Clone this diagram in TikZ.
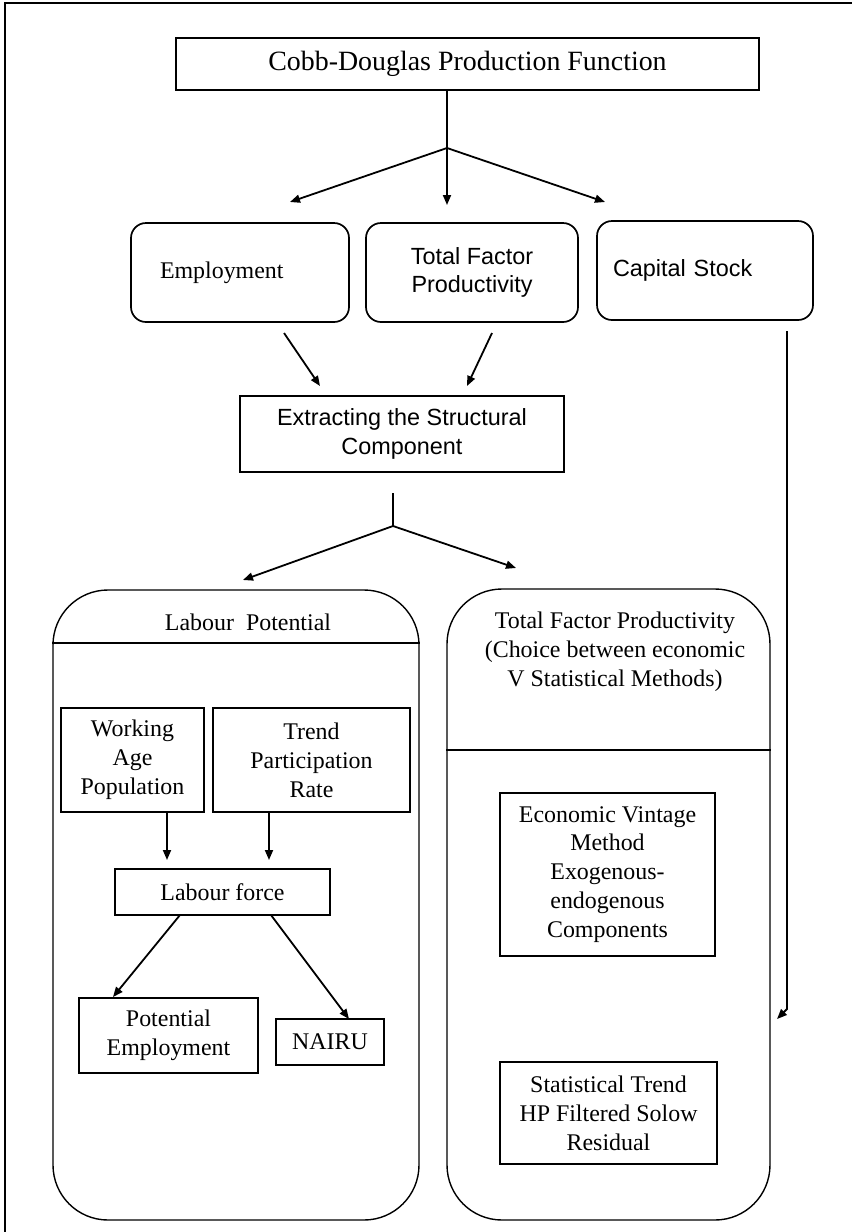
\documentclass[tikz,border=0pt]{standalone}
\usepackage{fontspec}
\setmainfont{Liberation Serif}
\newfontfamily\arialfam{Liberation Sans}
\usetikzlibrary{arrows.meta}
\newcommand\myser{\fontsize{24}{29}\selectfont}
\newcommand\mysans{\arialfam\fontsize{23.5}{28.5}\selectfont}
\newcommand\mybig{\fontsize{28}{32}\selectfont}
\begin{document}
\begin{tikzpicture}[x=1bp,y=-1bp,
  box/.style={draw, line width=1.7bp, inner sep=0pt, align=center, font=\myser},
  rbox/.style={box, rounded corners=15bp},
  bigbox/.style={draw, line width=1.4bp, inner sep=0pt, rounded corners=55bp},
  conn/.style={line width=1.8bp},
  arr/.style={conn, -{Triangle[length=10bp,width=8bp]}},
  lbl/.style={inner sep=0pt, align=center}
]
\useasboundingbox (0,0) rectangle (852,1232);
% outer frame (left and top)
\draw[line width=1.4bp] (5,1232) -- (5,3) -- (852,3);

% top box
\node[box, minimum width=583bp, minimum height=52bp, font=\mybig] (cobb) at (467.5,64) {Cobb-Douglas Production Function};

% second row
\node[rbox, minimum width=218bp, minimum height=99bp, text width=160bp, align=left] (emp) at (240,272.5) {Employment};
\node[rbox, minimum width=212bp, minimum height=99bp, font=\mysans] (tfp) at (472,272.5) {Total Factor\\Productivity};
\node[rbox, minimum width=216bp, minimum height=99bp, text width=184bp, align=left, font=\mysans] (cap) at (705,270.5) {Capital Stock};

% branching from top
\coordinate (j1) at (447,148);
\coordinate (e1) at (290,202);
\coordinate (e2) at (447,205);
\coordinate (e3) at (605,202);
\draw[conn] (cobb.south -| j1) -- (j1);
\draw[arr] (j1) -- (e1);
\draw[arr] (j1) -- (e2);
\draw[arr] (j1) -- (e3);

% extracting
\node[box, minimum width=324bp, minimum height=76bp, font=\mysans] (ext) at (402,434) {Extracting the Structural\\Component};
\coordinate (a1s) at (284,333);
\coordinate (a1e) at (320,386);
\coordinate (a2s) at (492,333);
\coordinate (a2e) at (467,386);
\draw[arr] (a1s) -- (a1e);
\draw[arr] (a2s) -- (a2e);

% capital stock long arrow
\coordinate (c1) at (787,331);
\coordinate (c2) at (787,1009);
\coordinate (c3) at (777,1019);
\draw[arr] (c1) -- (c2) -- (c3);

% second branching
\coordinate (j2t) at (393,493);
\coordinate (j2) at (393,526);
\coordinate (f1) at (243,580);
\coordinate (f2) at (516,568);
\draw[conn] (j2t) -- (j2);
\draw[arr] (j2) -- (f1);
\draw[arr] (j2) -- (f2);

% big boxes
\node[bigbox, minimum width=366bp, minimum height=630bp] (lab) at (236,905) {};
\draw[line width=1.4bp] (lab.west |- 0,643) -- (lab.east |- 0,643);
\node[lbl, font=\myser] (labt) at (248,622) {Labour\ \ Potential};

\node[bigbox, minimum width=323bp, minimum height=631bp] (tfb) at (608.5,904.5) {};
\draw[line width=1.4bp] (tfb.west |- 0,750) -- (tfb.east |- 0,750);
\node[lbl, font=\myser] (tfbt) at (615,652) {Total Factor Productivity\\(Choice between economic\\V Statistical Methods)};

% labour side
\node[box, minimum width=143bp, minimum height=104bp] (work) at (132.5,760) {Working\\Age\\Population};
\node[box, minimum width=197bp, minimum height=104bp] (trend) at (311.5,760) {Trend\\Participation\\Rate};
\node[box, minimum width=215bp, minimum height=46bp] (lf) at (222.5,892) {Labour force};
\node[box, minimum width=179bp, minimum height=75bp] (pe) at (168.5,1035.5) {Potential\\Employment};
\node[box, minimum width=108bp, minimum height=46bp] (nairu) at (330,1042) {NAIRU};

\coordinate (w1) at (167,860);
\coordinate (t1) at (269,860);
\draw[arr] (work.south -| w1) -- (w1);
\draw[arr] (trend.south -| t1) -- (t1);
\coordinate (l1) at (180,915);
\coordinate (l1e) at (113,997);
\coordinate (l2) at (271,915);
\coordinate (l2e) at (349,1019);
\draw[arr] (l1) -- (l1e);
\draw[arr] (l2) -- (l2e);

% tfp side
\node[box, minimum width=215bp, minimum height=163bp] (econ) at (607.5,874.5) {Economic Vintage\\Method\\Exogenous-\\endogenous\\Components};
\node[box, minimum width=217bp, minimum height=102bp] (stat) at (608.5,1113) {Statistical Trend\\HP Filtered Solow\\Residual};
\end{tikzpicture}
\end{document}
